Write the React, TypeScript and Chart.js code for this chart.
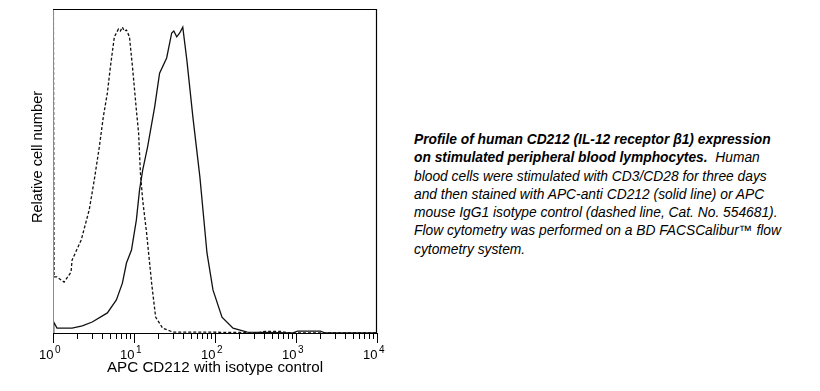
import React, { useEffect, useRef } from "react";
import { Chart, registerables } from "chart.js";

Chart.register(...registerables);

// Isotype control (dashed line): fluorescence (APC) vs relative cell number
const isotypeX = [1.0, 1.03, 1.12, 1.37, 1.67, 1.72, 2.23, 2.8, 3.23, 3.73, 4.18, 4.69, 5.11, 5.72, 6.42, 6.8, 7.19, 7.6, 8.07, 8.79, 9.58, 10.7, 11.4, 12.0, 12.8, 14.3, 16.5, 18.5, 22.6, 30.1, 64.9, 205, 316, 417, 640, 852, 10000];
const isotypeY = [150, 17.3, 17.3, 15.7, 18.8, 22.5, 28.7, 38.0, 47.2, 57.4, 66.7, 74.1, 82.1, 91.4, 93.8, 93.2, 94.4, 93.2, 93.5, 91.4, 82.1, 68.8, 61.7, 49.4, 41.0, 30.9, 15.4, 4.9, 1.5, 0.3, 0.3, 0.15, 0, 0.5, 0.5, 0, 0];

// APC-anti CD212 (solid line)
const cd212X = [1.0, 1.02, 1.12, 1.72, 2.3, 3.05, 4.69, 6.06, 7.19, 8.07, 9.31, 10.7, 11.7, 12.8, 14.7, 18.0, 20.7, 25.3, 29.2, 31.0, 33.7, 36.7, 40.0, 44.9, 53.3, 65.1, 79.6, 94.4, 122, 167, 250, 900, 1047, 2000, 2300, 10000];
const cd212Y = [0, 3.4, 1.5, 1.5, 2.2, 3.4, 6.2, 10.2, 15.4, 21.6, 25.6, 34.9, 44.1, 50.3, 57.4, 69.8, 80.2, 84.9, 92.6, 93.2, 91.4, 92.6, 94.4, 84.3, 66.7, 48.1, 24.7, 13.3, 4.9, 1.5, 0.3, 0, 0.6, 0.6, 0, 0];

// Axis ticks
const majorTicks = [1, 10, 100, 1000, 10000];
const majorExponents = ["0", "1", "2", "3", "4"];
const minorMultipliers = [2, 3, 4, 5, 6, 7, 8, 9];

const xTitle = "APC CD212 with isotype control";
const yTitle = "Relative cell number";

const captionBold = [
  "Profile of human CD212 (IL-12 receptor β1) expression",
  "on stimulated peripheral blood lymphocytes.",
];
const captionLines = [
  "blood cells were stimulated with CD3/CD28 for three days",
  "and then stained with APC-anti CD212 (solid line) or APC",
  "mouse IgG1 isotype control (dashed line, Cat. No. 554681).",
  "Flow cytometry was performed on a BD FACSCalibur™ flow",
  "cytometry system.",
];

const FONT = '"Liberation Sans", Arial, sans-serif';

const framePlugin = {
  id: "facsFrame",
  afterDatasetsDraw(chart: any) {
    const { ctx, chartArea: a, scales } = chart;
    const x = scales.x;
    ctx.save();
    // left edge (light)
    ctx.strokeStyle = "#8a8a8a";
    ctx.lineWidth = 1;
    ctx.beginPath();
    ctx.moveTo(a.left + 0.5, a.top);
    ctx.lineTo(a.left + 0.5, a.bottom);
    ctx.stroke();
    // top, right, bottom
    ctx.strokeStyle = "#000";
    ctx.lineWidth = 1.2;
    ctx.beginPath();
    ctx.moveTo(a.left, a.top + 0.5);
    ctx.lineTo(a.right - 0.5, a.top + 0.5);
    ctx.lineTo(a.right - 0.5, a.bottom + 0.5);
    ctx.lineTo(a.left, a.bottom + 0.5);
    ctx.stroke();
    // ticks
    ctx.lineWidth = 1;
    ctx.beginPath();
    majorTicks.forEach((v, i) => {
      const px = Math.round(x.getPixelForValue(v)) + 0.5;
      ctx.moveTo(px, a.bottom);
      ctx.lineTo(px, a.bottom + 10);
      if (i < majorTicks.length - 1) {
        minorMultipliers.forEach((m) => {
          const mx = Math.round(x.getPixelForValue(v * m)) + 0.5;
          ctx.moveTo(mx, a.bottom);
          ctx.lineTo(mx, a.bottom + 6);
        });
      }
    });
    ctx.stroke();
    // tick labels
    ctx.fillStyle = "#000";
    majorTicks.forEach((v, i) => {
      const px = x.getPixelForValue(v);
      ctx.font = `13px ${FONT}`;
      ctx.textAlign = "right";
      ctx.textBaseline = "alphabetic";
      ctx.fillText("10", px + 0.5, a.bottom + 26);
      ctx.font = `10px ${FONT}`;
      ctx.textAlign = "left";
      ctx.fillText(majorExponents[i], px + 2, a.bottom + 20);
    });
    // x title
    ctx.font = `15.2px ${FONT}`;
    ctx.textAlign = "center";
    ctx.fillText(xTitle, (a.left + a.right) / 2, a.bottom + 38.5);
    // y title
    ctx.save();
    ctx.font = `14.6px ${FONT}`;
    ctx.translate(a.left - 11, 157);
    ctx.rotate(-Math.PI / 2);
    ctx.textAlign = "center";
    ctx.fillText(yTitle, 0, 0);
    ctx.restore();
    ctx.restore();
  },
};

export default function App() {
  const ref = useRef<HTMLCanvasElement | null>(null);
  useEffect(() => {
    document.body.style.margin = "0";
    const canvas = ref.current;
    if (!canvas) return;
    const chart = new Chart(canvas, {
      type: "line",
      data: {
        datasets: [
          {
            label: "Isotype control",
            data: isotypeX.map((v, i) => ({ x: v, y: isotypeY[i] })),
            borderColor: "#111",
            borderWidth: 1.3,
            borderDash: [3, 2],
            pointRadius: 0,
            tension: 0,
            fill: false,
          },
          {
            label: "APC-anti CD212",
            data: cd212X.map((v, i) => ({ x: v, y: cd212Y[i] })),
            borderColor: "#111",
            borderWidth: 1.3,
            pointRadius: 0,
            tension: 0,
            fill: false,
          },
        ],
      },
      options: {
        responsive: false,
        animation: false,
        layout: { padding: { left: 53, top: 9, right: 23, bottom: 58 } },
        plugins: { legend: { display: false }, tooltip: { enabled: false } },
        scales: {
          x: { type: "logarithmic", min: 1, max: 10000, display: false },
          y: { type: "linear", min: 0, max: 100, display: false },
        },
      },
      plugins: [framePlugin],
    });
    return () => chart.destroy();
  }, []);

  return (
    <div style={{ position: "absolute", left: 0, top: 0, width: 820, height: 391, background: "#fff" }}>
      <canvas ref={ref} width={400} height={391} style={{ position: "absolute", left: 0, top: 0 }} />
      <div
        style={{
          position: "absolute",
          left: 414,
          top: 131,
          fontFamily: FONT,
          fontSize: 13.8,
          lineHeight: "18.3px",
          fontStyle: "italic",
          whiteSpace: "pre",
          color: "#000",
        }}
      >
        <div style={{ fontWeight: "bold" }}>{captionBold[0]}</div>
        <div>
          <span style={{ fontWeight: "bold" }}>{captionBold[1]}</span>
          {"  Human"}
        </div>
        {captionLines.map((l, i) => (
          <div key={i}>{l}</div>
        ))}
      </div>
    </div>
  );
}
